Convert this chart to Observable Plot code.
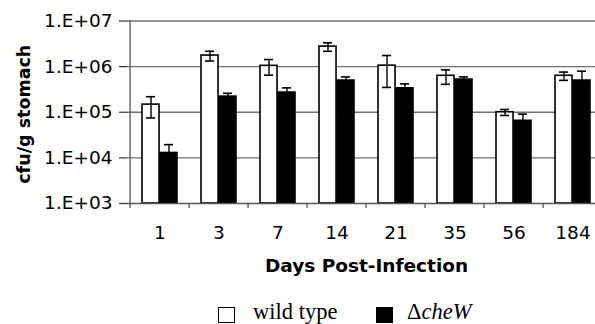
<!DOCTYPE html>
<html>
<head>
<meta charset="utf-8">
<script src="https://cdn.jsdelivr.net/npm/d3@7"></script>
<script src="https://cdn.jsdelivr.net/npm/@observablehq/plot@0.6"></script>
<style>
  html, body { margin: 0; padding: 0; background: #fff; overflow: hidden; width: 595px; height: 324px; }
  #chart svg { display: block; overflow: visible; }
  #legend { position: absolute; left: 0; top: 299px; width: 595px; height: 25px; font-family: "Liberation Serif", "DejaVu Serif", serif; font-size: 22.5px; color: #000; }
  .sw { position: absolute; top: 8px; width: 17px; height: 16px; box-sizing: border-box; border: 1.6px solid #000; }
  .lt { position: absolute; top: 0px; line-height: 26px; }
</style>
</head>
<body>
<div id="chart"></div>
<div id="legend">
  <div class="sw" style="left:218px;background:#fff"></div>
  <div class="lt" style="left:253px">wild type</div>
  <div class="sw" style="left:376px;background:#000"></div>
  <div class="lt" style="left:407px">Δ<i>cheW</i></div>
</div>
<script>
const days = ["1", "3", "7", "14", "21", "35", "56", "184"];
const wildType = [1.47e5, 1.75e6, 1.04e6, 2.75e6, 1.05e6, 6.3e5, 1.0e5, 6.3e5];
const wildTypeErr = [0.72e5, 0.42e6, 0.39e6, 0.58e6, 0.7e6, 2.2e5, 0.15e5, 1.3e5];
const cheW = [1.28e4, 2.2e5, 2.7e5, 4.95e5, 3.35e5, 5.2e5, 6.5e4, 4.95e5];
const cheWErr = [0.67e4, 0.4e5, 0.72e5, 1.0e5, 0.83e5, 0.76e5, 2.6e4, 3.0e5];
const yTicks = [1e3, 1e4, 1e5, 1e6, 1e7];

const wt = days.map((d, i) => ({day: d, v: wildType[i], e: wildTypeErr[i]}));
const cw = days.map((d, i) => ({day: d, v: cheW[i], e: cheWErr[i]}));

const W = 595, H = 285;
const x0 = 127, x1 = 606, yTop = 20.5, yBot = 203;
const step = (x1 - x0) / 8;
const bw = step * 0.6;
const half = bw / 2;
const cap = 10;

const fmt = d => "1.E+0" + Math.round(Math.log10(d));

const chart = Plot.plot({
  width: W,
  height: H,
  marginLeft: x0,
  marginRight: 0,
  marginTop: yTop,
  marginBottom: H - yBot,
  style: {fontFamily: "DejaVu Sans, Verdana, sans-serif", background: "#fff", color: "#000"},
  x: {domain: days, range: [x0, x1], paddingInner: 0.4, paddingOuter: 0.2, axis: null, label: null},
  y: {type: "log", domain: [1e3, 1e7], range: [yBot, yTop], axis: null, label: null},
  marks: [
    Plot.ruleY(yTicks.slice(1), {y: d => d, stroke: "#707070", strokeWidth: 1.3}),
    // y tick marks & labels
    Plot.axisY(yTicks, {tickSize: 8, tickPadding: 7, tickFormat: fmt, fontSize: 18.5, label: null, stroke: "#333", strokeWidth: 1.2}),
    // category boundary ticks
    Plot.axisX(days, {tickSize: 5, text: null, label: null, dx: -step / 2, stroke: "#444", strokeWidth: 1.2}),
    // x labels
    Plot.axisX(days, {tickSize: 0, tickPadding: 22, fontSize: 18.5, label: null}),
    // bars
    Plot.barY(wt, {x: "day", y1: 1e3, y2: "v", fill: "#fff", stroke: "#000", strokeWidth: 1.6, insetLeft: 0, insetRight: half}),
    Plot.barY(cw, {x: "day", y1: 1e3, y2: "v", fill: "#000", stroke: "#000", strokeWidth: 1.6, insetLeft: half, insetRight: 0}),
    // error bars
    Plot.ruleX(wt, {x: "day", y1: d => d.v - d.e, y2: d => d.v + d.e, dx: -half / 2, stroke: "#000", strokeWidth: 1.4}),
    Plot.ruleX(cw, {x: "day", y1: d => d.v - d.e, y2: d => d.v + d.e, dx: half / 2, stroke: "#000", strokeWidth: 1.4}),
    Plot.tickY(wt, {x: "day", y: d => d.v + d.e, insetLeft: half / 2 - cap / 2, insetRight: bw - half / 2 - cap / 2, stroke: "#000", strokeWidth: 1.6}),
    Plot.tickY(wt, {x: "day", y: d => d.v - d.e, insetLeft: half / 2 - cap / 2, insetRight: bw - half / 2 - cap / 2, stroke: "#000", strokeWidth: 1.6}),
    Plot.tickY(cw, {x: "day", y: d => d.v + d.e, insetLeft: bw - half / 2 - cap / 2, insetRight: half / 2 - cap / 2, stroke: "#000", strokeWidth: 1.6}),
    // axis lines
    Plot.ruleY([1e3], {stroke: "#555", strokeWidth: 1.3}),
    Plot.ruleX([days[0]], {x: d => d, y1: 1e3, y2: 1e7, dx: -step / 2, stroke: "#555", strokeWidth: 1.3}),
    // titles
    Plot.text(["Days Post-Infection"], {frameAnchor: "bottom", dx: 5, dy: 68, fontSize: 18.5, fontWeight: "bold", text: d => d}),
    Plot.text(["cfu/g stomach"], {frameAnchor: "left", textAnchor: "middle", dx: -103, dy: 2, rotate: -90, fontSize: 17.5, fontWeight: "bold", text: d => d})
  ]
});
document.getElementById("chart").append(chart);
</script>
</body>
</html>
